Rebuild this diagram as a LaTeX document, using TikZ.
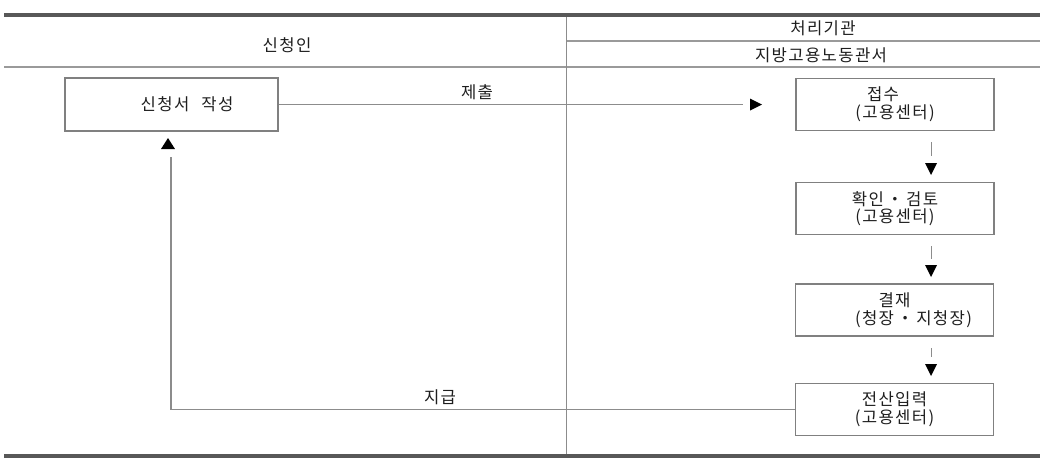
\documentclass[tikz,border=0pt]{standalone}
\usepackage{fontspec}
\setmainfont[LetterSpace=8]{Noto Sans CJK KR}
\newlength\pxu \setlength\pxu{0.75pt}
\definecolor{rulethick}{HTML}{585858}
\definecolor{rulethin}{HTML}{9A9A9A}
\definecolor{boxgray}{HTML}{808080}
\definecolor{linegray}{HTML}{8C8C8C}
\definecolor{txt}{HTML}{1E1E1E}
\begin{document}
\begin{tikzpicture}[x=0.75pt,y=-0.75pt,
  font=\fontsize{12.5}{13.2}\selectfont, text=txt,
  box/.style={draw=boxgray, line width=1.3\pxu, minimum width=198\pxu, minimum height=52\pxu, align=center, inner sep=0pt},
  conn/.style={draw=linegray, line width=1\pxu},
  tipfill/.style={fill=black}]
\useasboundingbox (0,0) rectangle (1040,461);
% table rules
\draw[rulethick, line width=3.5\pxu] (4,15) -- (1040,15);
\draw[rulethick, line width=3.5\pxu] (4,456) -- (1040,456);
\draw[rulethin, line width=1.8\pxu] (4,67) -- (1040,67);
\draw[rulethin, line width=1.5\pxu] (566,41) -- (1040,41);
\draw[linegray, line width=1\pxu] (566,17) -- (566,454);
% headers
\node (hA) at (287,45) {신청인};
\node (hB) at (823,28) {처리기관};
\node (hC) at (821,55) {지방고용노동관서};
% boxes
\node[box, minimum width=213\pxu, minimum height=53\pxu] (b0) at (171.5,104.5) {\hspace*{31\pxu}신청서\hspace{12\pxu}작성};
\node[box] (b1) at (895,104.5) {\hspace*{-24\pxu}접수\\(고용센터)};
\node[box] (b2) at (895,208.5) {확인\,・\,검토\\(고용센터)};
\node[box] (b3) at (894.5,310) {결재\\\hspace*{38\pxu}(청장\,・\,지청장)};
\node[box] (b4) at (894.5,409.5) {전산입력\\(고용센터)};
% submit connector
\coordinate (s1) at (743,104.5);
\draw[conn] (b0.east) -- (s1);
\fill[tipfill] (750,98.5) -- (762,104.5) -- (750,110.5) -- cycle;
\node (lab1) at (477,92) {제출};
% vertical connectors
\coordinate (v1a) at (931,142); \coordinate (v1b) at (931,156);
\draw[conn] (v1a) -- (v1b);
\fill[tipfill] (925,163) -- (937,163) -- (931,175) -- cycle;
\coordinate (v2a) at (931,246); \coordinate (v2b) at (931,259);
\draw[conn] (v2a) -- (v2b);
\fill[tipfill] (925,265) -- (937,265) -- (931,277) -- cycle;
\coordinate (v3a) at (931,348); \coordinate (v3b) at (931,357);
\draw[conn] (v3a) -- (v3b);
\fill[tipfill] (925,364) -- (937,364) -- (931,376) -- cycle;
% return connector
\coordinate (r1) at (171,409.5);
\coordinate (r2) at (171,157);
\draw[conn, line width=1.3\pxu] (b4.west) -- (r1) -- (r2);
\fill[tipfill] (161,149) -- (168,138) -- (175,149) -- cycle;
\node (lab2) at (440,397) {지급};
\end{tikzpicture}
\end{document}
